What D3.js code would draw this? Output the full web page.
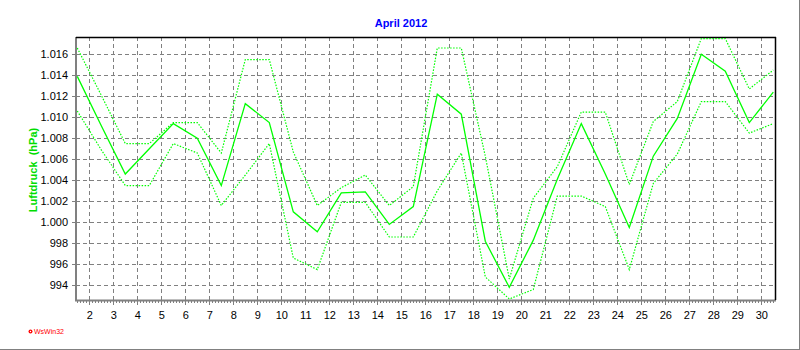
<!DOCTYPE html>
<html>
<head>
<meta charset="utf-8">
<script src="https://cdn.jsdelivr.net/npm/d3@7"></script>
<style>
  body { margin: 0; background: #fff; }
  svg { display: block; font-family: "Liberation Sans", Arial, sans-serif; }
  .grid line { stroke: #808080; stroke-width: 1; stroke-dasharray: 4,3; shape-rendering: crispEdges; }
  .axis text { font-size: 11px; fill: #000; }
  .axis line { stroke: #808080; shape-rendering: crispEdges; }
  .axis path { display: none; }
  .series { fill: none; stroke: #00ff00; }
</style>
</head>
<body>
<div id="chart"></div>
<script>
// Tageswerte Luftdruck April 2012 (hPa): Minimum, Mittel, Maximum
const days = [1, 2, 3, 4, 5, 6, 7, 8, 9, 10, 11, 12, 13, 14, 15,
  16, 17, 18, 19, 20, 21, 22, 23, 24, 25, 26, 27, 28, 29, 30];
const pMin = [1010.6, 1006.9, 1003.5, 1003.5, 1007.5, 1006.6, 1001.6, 1004.5, 1007.5, 996.6,
  995.5, 1001.9, 1001.9, 998.6, 998.6, 1003.0, 1006.6, 994.8, 992.7, 993.6,
  1002.5, 1002.5, 1001.5, 995.5, 1003.7, 1006.5, 1011.5, 1011.5, 1008.5, 1009.4];
const pMean = [1013.9, 1009.2, 1004.6, 1007.0, 1009.4, 1008.0, 1003.5, 1011.3, 1009.5, 1001.0,
  999.1, 1002.8, 1002.9, 999.8, 1001.5, 1012.2, 1010.3, 998.2, 993.8, 998.3,
  1004.1, 1009.4, 1004.6, 999.5, 1006.3, 1009.9, 1016.0, 1014.4, 1009.5, 1012.4];
const pMax = [1016.6, 1012.1, 1007.5, 1007.5, 1009.5, 1009.5, 1006.6, 1015.5, 1015.5, 1006.7,
  1001.6, 1003.3, 1004.5, 1001.6, 1003.4, 1016.6, 1016.6, 1006.3, 994.6, 1002.3,
  1005.3, 1010.5, 1010.5, 1003.6, 1009.6, 1011.5, 1017.5, 1017.5, 1012.7, 1014.5];

const yTicks = [994, 996, 998, 1000, 1002, 1004, 1006, 1008, 1010, 1012, 1014, 1016];
const yTickLabels = ['994', '996', '998', '1.000', '1.002', '1.004', '1.006', '1.008',
  '1.010', '1.012', '1.014', '1.016'];
const xTicks = [2, 3, 4, 5, 6, 7, 8, 9, 10, 11, 12, 13, 14, 15, 16,
  17, 18, 19, 20, 21, 22, 23, 24, 25, 26, 27, 28, 29, 30];

const chartTitle = 'April 2012';
const yTitle = 'Luftdruck  (hPa)';

const width = 800, height = 350;
const plot = { left: 76, right: 775, top: 37, bottom: 300 };

const svg = d3.select('#chart').append('svg')
  .attr('width', width)
  .attr('height', height);

svg.append('rect')
  .attr('width', width)
  .attr('height', height)
  .attr('fill', '#fff');

// scales: daily values sit at midday (day + 0.5)
const x = d3.scaleLinear()
  .domain([1.446, 30.571])
  .range([plot.left, plot.right]);
const y = d3.scaleLinear()
  .domain([992.6, 1017.65])
  .range([plot.bottom, plot.top]);

// grid
const grid = svg.append('g').attr('class', 'grid');
grid.selectAll('.hgrid')
  .data(yTicks)
  .join('line')
  .attr('class', 'hgrid')
  .attr('x1', plot.left)
  .attr('x2', plot.right)
  .attr('y1', d => Math.round(y(d)) + 0.5)
  .attr('y2', d => Math.round(y(d)) + 0.5);
grid.selectAll('.vgrid')
  .data(xTicks)
  .join('line')
  .attr('class', 'vgrid')
  .attr('x1', d => Math.round(x(d)) + 0.5)
  .attr('x2', d => Math.round(x(d)) + 0.5)
  .attr('y1', plot.top)
  .attr('y2', plot.bottom);

// axes
const yAxis = d3.axisLeft(y)
  .tickValues(yTicks)
  .tickFormat((d, i) => yTickLabels[i])
  .tickSize(4)
  .tickPadding(4);
svg.append('g')
  .attr('class', 'axis')
  .attr('transform', `translate(${plot.left},0)`)
  .call(yAxis);

// minor ticks every 3 hours
const minorTicks = d3.range(1.5, 30.6, 0.125).filter(d => x(d) > plot.left && x(d) < plot.right);
svg.append('g')
  .attr('class', 'axis')
  .attr('transform', `translate(0,${plot.bottom})`)
  .call(d3.axisBottom(x).tickValues(minorTicks).tickFormat('').tickSize(3));

const xAxis = d3.axisBottom(x)
  .tickValues(xTicks)
  .tickFormat(d3.format('d'))
  .tickSize(5)
  .tickPadding(6);
svg.append('g')
  .attr('class', 'axis')
  .attr('transform', `translate(0,${plot.bottom})`)
  .call(xAxis);

// frame: grey left/bottom axis, black top/right
svg.append('line')
  .attr('x1', plot.left).attr('x2', plot.left)
  .attr('y1', plot.top).attr('y2', plot.bottom + 1)
  .attr('stroke', '#808080').attr('stroke-width', 2);
svg.append('line')
  .attr('x1', plot.left - 1).attr('x2', plot.right + 1)
  .attr('y1', plot.bottom + 0.5).attr('y2', plot.bottom + 0.5)
  .attr('stroke', '#808080').attr('stroke-width', 2);
svg.append('line')
  .attr('x1', plot.left).attr('x2', plot.right + 1)
  .attr('y1', plot.top + 0.5).attr('y2', plot.top + 0.5)
  .attr('stroke', '#000').attr('stroke-width', 1.5);
svg.append('line')
  .attr('x1', plot.right + 0.5).attr('x2', plot.right + 0.5)
  .attr('y1', plot.top).attr('y2', plot.bottom)
  .attr('stroke', '#000').attr('stroke-width', 1.5);

// lines
const line = series => d3.line()
  .x((d, i) => x(days[i] + 0.5))
  .y(d => y(d))(series);

svg.append('path')
  .attr('class', 'series')
  .attr('d', line(pMax))
  .attr('stroke-width', 1.2)
  .attr('stroke-dasharray', '1.5,1.5');
svg.append('path')
  .attr('class', 'series')
  .attr('d', line(pMin))
  .attr('stroke-width', 1.2)
  .attr('stroke-dasharray', '1.5,1.5');
svg.append('path')
  .attr('class', 'series')
  .attr('d', line(pMean))
  .attr('stroke-width', 1.3);

// title
svg.append('text')
  .attr('x', 401)
  .attr('y', 27)
  .attr('text-anchor', 'middle')
  .attr('fill', '#0000ff')
  .style('font-size', '11px')
  .style('font-weight', 'bold')
  .text(chartTitle);

// y title
svg.append('text')
  .attr('transform', 'translate(37,170) rotate(-90)')
  .attr('text-anchor', 'middle')
  .attr('fill', '#00dd00')
  .style('font-size', '11px')
  .style('font-weight', 'bold')
  .style('white-space', 'pre')
  .text(yTitle);

// WsWin32 logo
svg.append('circle')
  .attr('cx', 30.5).attr('cy', 331.5).attr('r', 2)
  .attr('fill', '#ff0000');
svg.append('circle')
  .attr('cx', 30.5).attr('cy', 331.5).attr('r', 0.7)
  .attr('fill', '#fff');
svg.append('text')
  .attr('x', 34)
  .attr('y', 334)
  .attr('fill', '#ff0000')
  .style('font-size', '7px')
  .text('WsWin32');

// outer window edge
svg.append('line')
  .attr('x1', width - 0.5).attr('x2', width - 0.5)
  .attr('y1', 0).attr('y2', height)
  .attr('stroke', '#808080');
svg.append('line')
  .attr('x1', 0).attr('x2', width)
  .attr('y1', height - 0.5).attr('y2', height - 0.5)
  .attr('stroke', '#808080');
</script>
</body>
</html>
